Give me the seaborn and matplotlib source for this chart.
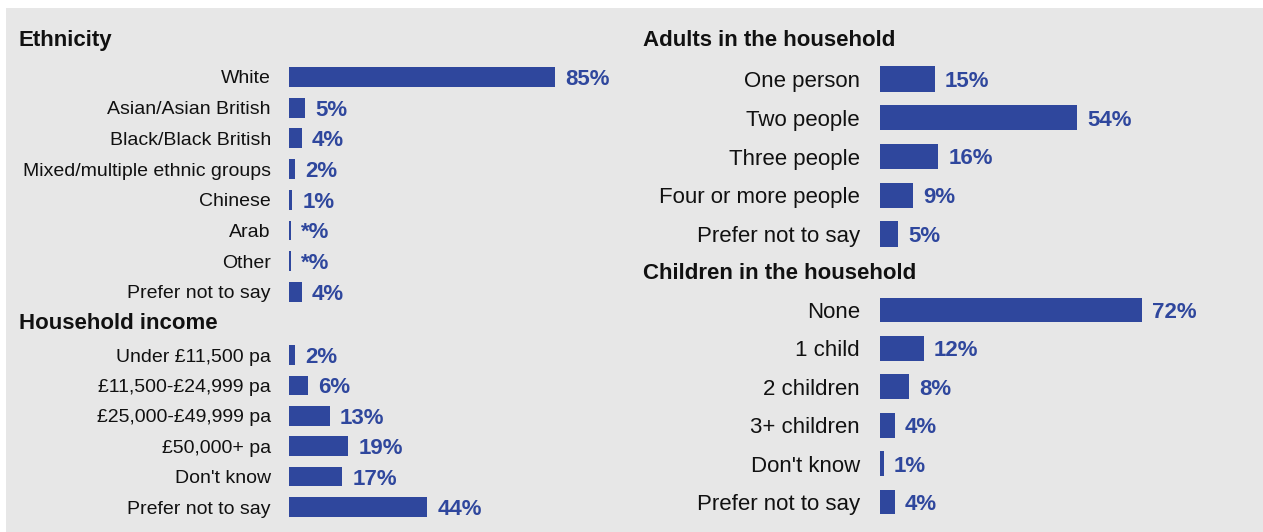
import matplotlib
matplotlib.use("Agg")
import matplotlib.pyplot as plt
import seaborn as sns
import pandas as pd
from matplotlib.patches import Rectangle

sns.set_theme(style="white")
plt.rcParams['font.family'] = ['Liberation Sans', 'DejaVu Sans']

# ---- data ----
eth_cats = ["White", "Asian/Asian British", "Black/Black British", "Mixed/multiple ethnic groups",
            "Chinese", "Arab", "Other", "Prefer not to say"]
eth_vals = [85, 5, 4, 2, 1, 0.5, 0.5, 4]
eth_labels = ["85%", "5%", "4%", "2%", "1%", "*%", "*%", "4%"]

inc_cats = ["Under £11,500 pa", "£11,500-£24,999 pa", "£25,000-£49,999 pa", "£50,000+ pa",
            "Don't know", "Prefer not to say"]
inc_vals = [2, 6, 13, 19, 17, 44]
inc_labels = ["2%", "6%", "13%", "19%", "17%", "44%"]

adu_cats = ["One person", "Two people", "Three people", "Four or more people", "Prefer not to say"]
adu_vals = [15, 54, 16, 9, 5]
adu_labels = ["15%", "54%", "16%", "9%", "5%"]

chi_cats = ["None", "1 child", "2 children", "3+ children", "Don't know", "Prefer not to say"]
chi_vals = [72, 12, 8, 4, 1, 4]
chi_labels = ["72%", "12%", "8%", "4%", "1%", "4%"]

BAR = "#2F479D"
BG = "#e7e7e7"
W, H = 1263, 532

fig = plt.figure(figsize=(W / 100, H / 100), dpi=100)
fig.patch.set_facecolor("white")
fig.add_artist(Rectangle((6 / W, 0), 1 - 6 / W, (H - 8) / H, transform=fig.transFigure,
                         facecolor=BG, edgecolor="none", zorder=0))


def panel(cats, vals, labels, x0, scale, top_center, spacing, lab_size, pad):
    n = len(cats)
    width_px = 340
    top = top_center - spacing / 2
    height = spacing * n
    ax = fig.add_axes([x0 / W, (H - top - height) / H, width_px / W, height / H])
    df = pd.DataFrame({"cat": cats, "val": vals})
    sns.barplot(data=df, y="cat", x="val", orient="h", color=BAR, width=0.65,
                saturation=1, ax=ax, edgecolor="none")
    ax.set_xlim(0, width_px / scale)
    ax.set_ylim(n - 0.5, -0.5)
    ax.set_facecolor("none")
    for s in ax.spines.values():
        s.set_visible(False)
    ax.set_xticks([])
    ax.set_xlabel("")
    ax.set_ylabel("")
    ax.tick_params(axis="y", length=0, pad=pad, labelsize=lab_size, labelcolor="#111111")
    for lab in ax.get_yticklabels():
        lab.set_verticalalignment("center_baseline")
    for i, (v, t) in enumerate(zip(vals, labels)):
        ax.annotate(t, (v, i), xytext=(7.5, 0), textcoords="offset points",
                    ha="left", va="center_baseline", fontsize=16, fontweight="bold", color=BAR)
    return ax


panel(eth_cats, eth_vals, eth_labels, 289, 3.13, 77, 30.7, 14, 13)
panel(inc_cats, inc_vals, inc_labels, 289, 3.13, 355, 30.4, 14, 13)
panel(adu_cats, adu_vals, adu_labels, 880, 3.64, 79, 38.75, 16, 14.4)
panel(chi_cats, chi_vals, chi_labels, 880, 3.64, 310, 38.4, 16, 14.4)

for txt, x, y in [("Ethnicity", 19, 38), ("Household income", 19, 321),
                  ("Adults in the household", 643, 38), ("Children in the household", 643, 271)]:
    fig.text(x / W, 1 - y / H, txt, ha="left", va="center_baseline", fontsize=16,
             fontweight="bold", color="#111111")

fig.savefig("out.png", dpi=100, facecolor="white")
